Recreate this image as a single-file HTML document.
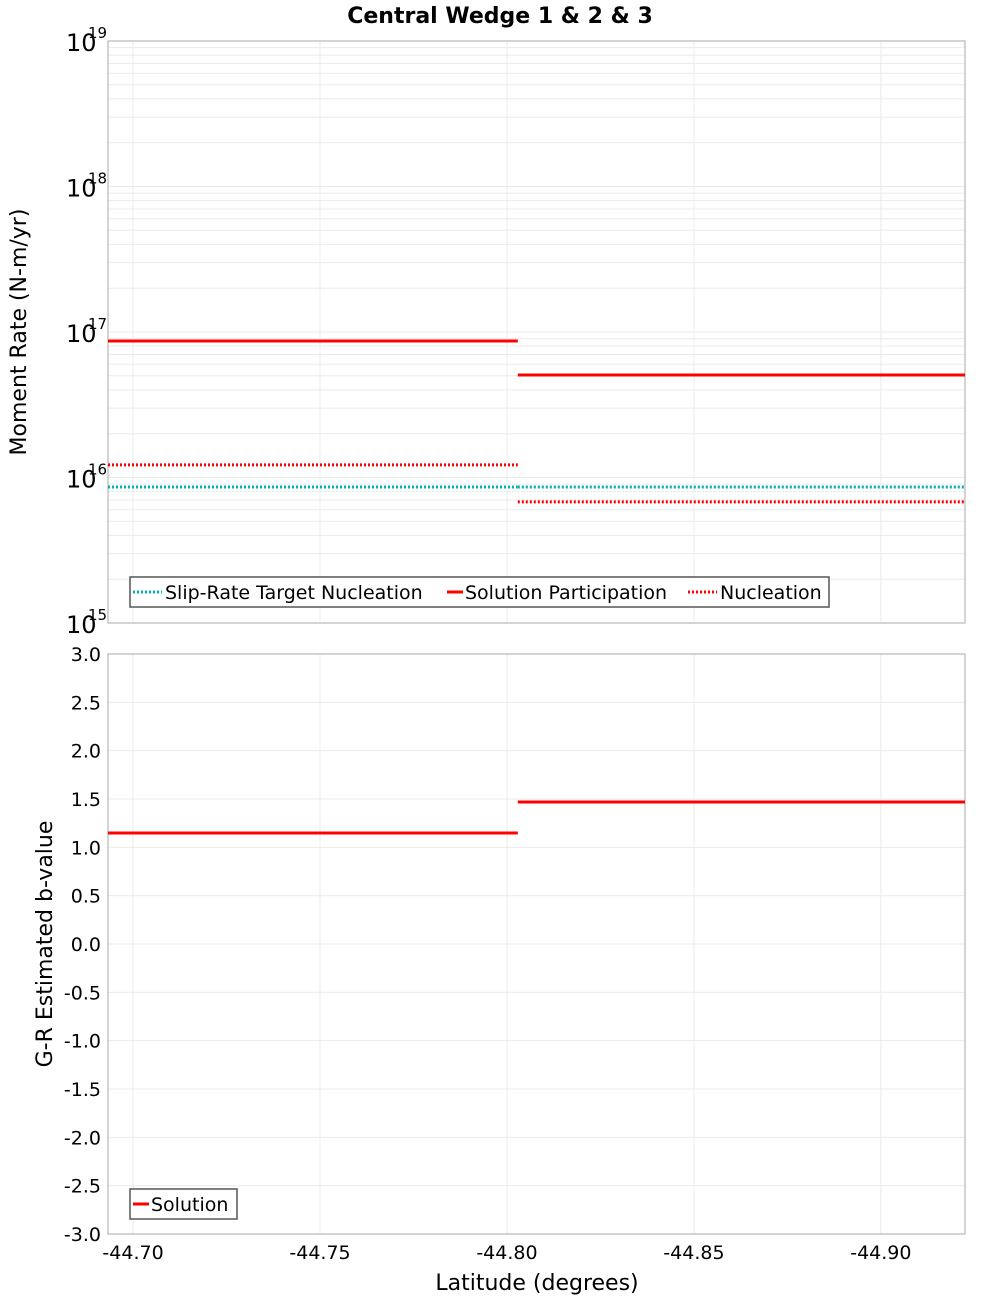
<!DOCTYPE html>
<html><head><meta charset="utf-8"><style>
body{margin:0;background:#fff;}
svg text{font-family:"DejaVu Sans","Liberation Sans",sans-serif;}
</style></head><body>
<svg id="chart" width="1000" height="1300" xmlns="http://www.w3.org/2000/svg">
<text x="500" y="23" text-anchor="middle" font-size="22" font-weight="bold">Central Wedge 1 &amp; 2 &amp; 3</text>
<g id="topPanel"></g>
<g id="botPanel"></g>
<text transform="translate(26,332) rotate(-90)" text-anchor="middle" font-size="22">Moment Rate (N-m/yr)</text>
<text transform="translate(52,944) rotate(-90)" text-anchor="middle" font-size="22">G-R Estimated b-value</text>
<text x="537" y="1290" text-anchor="middle" font-size="22">Latitude (degrees)</text>
</svg>
<script>
const xTicks=[-44.70,-44.75,-44.80,-44.85,-44.90];
const xTickLabels=["-44.70","-44.75","-44.80","-44.85","-44.90"];
const segEdges=[-44.6933,-44.8029,-44.9225];
const participation=[8.67e16,5.06e16];
const nucleation=[1.22e16,6.8e15];
const targetNucleation=[8.6e15,8.6e15];
const bValues=[1.148,1.469];
const yLogTicks=[15,16,17,18,19];
const bTicks=[-3,-2.5,-2,-1.5,-1,-0.5,0,0.5,1,1.5,2,2.5,3];

const L=108,R=965,T1=41,B1=623,T2=654,B2=1234;
const X0=-44.6933,X1=-44.9225;
const xs=v=>L+(v-X0)/(X1-X0)*(R-L);
const yLog=v=>B1-(Math.log10(v)-15)/4*(B1-T1);
const yB=v=>B2-(v+3)/6*(B2-T2);
const NS="http://www.w3.org/2000/svg";
function mk(parent,tag,attrs,text){const e=document.createElementNS(NS,tag);for(const k in attrs)e.setAttribute(k,attrs[k]);if(text!==undefined)e.textContent=text;parent.appendChild(e);return e;}
const topG=document.getElementById('topPanel'),botG=document.getElementById('botPanel');

for(let d=15;d<19;d++)for(let m=1;m<10;m++){const y=yLog(m*Math.pow(10,d));
 const g=mk(topG,'line',{x1:L,x2:R,y1:y,y2:y,stroke:'#ebebeb','stroke-width':1});
 
 }
for(const t of xTicks){for(const [g0,T,B] of [[topG,T1,B1],[botG,T2,B2]]){const g=mk(g0,'line',{x1:xs(t),x2:xs(t),y1:T,y2:B,stroke:'#ebebeb','stroke-width':1});
 
 }}
for(const t of bTicks){const g=mk(botG,'line',{x1:L,x2:R,y1:yB(t),y2:yB(t),stroke:'#ebebeb','stroke-width':1});
 
 }
for(const [g0,T,B] of [[topG,T1,B1],[botG,T2,B2]]){const f=mk(g0,'rect',{x:L,y:T,width:R-L,height:B-T,fill:'none',stroke:'#aaa','stroke-width':1});
 
 }
for(const e of yLogTicks){const y=yLog(Math.pow(10,e));
 const t=mk(topG,'text',{x:66,y:y+10,'font-size':24},'10');
 
 
 mk(t,'tspan',{x:88,y:y-3,'font-size':15},String(e));}
for(const v of bTicks){const t=mk(botG,'text',{x:101,y:yB(v)+7,'text-anchor':'end','font-size':19},v.toFixed(1));
 
 }
xTicks.forEach((v,i)=>{const t=mk(botG,'text',{x:xs(v),y:1259,'text-anchor':'middle','font-size':19},xTickLabels[i]);
 
 });
function seg(g0,vals,yf,color,dash,name){for(let i=0;i<vals.length;i++){
 const a={x1:xs(segEdges[i]),x2:xs(segEdges[i+1]),y1:yf(vals[i]),y2:yf(vals[i]),stroke:color,'stroke-width':3};
 if(dash)a['stroke-dasharray']='2,2';const l=mk(g0,'line',a);
 
 }}
seg(topG,targetNucleation,yLog,'#00b4b4',true,'target-nucleation-segment');
seg(topG,nucleation,yLog,'#ff0000',true,'nucleation-segment');
seg(topG,participation,yLog,'#ff0000',false,'participation-segment');
seg(botG,bValues,yB,'#ff0000',false,'b-value-segment');
const lg=mk(topG,'g',{});


mk(lg,'rect',{x:130,y:577,width:699,height:30,fill:'#fff',stroke:'#555','stroke-width':1.5});
const items=[[133,'#00b4b4',true,'Slip-Rate Target Nucleation',165],[447,'#ff0000',false,'Solution Participation',465],[688,'#ff0000',true,'Nucleation',720]];
for(const [x,c,d,txt,tx] of items){const e=mk(lg,'g',{});
 
 
 const a={x1:x,x2:d?x+29:x+16,y1:592,y2:592,stroke:c,'stroke-width':3};if(d)a['stroke-dasharray']='2,2';mk(e,'line',a);
 mk(e,'text',{x:tx,y:599,'font-size':19},txt);}
const lg2=mk(botG,'g',{});


mk(lg2,'rect',{x:130,y:1189,width:107,height:30,fill:'#fff',stroke:'#555','stroke-width':1.5});
mk(lg2,'line',{x1:133,x2:149,y1:1204,y2:1204,stroke:'#ff0000','stroke-width':3});
mk(lg2,'text',{x:151,y:1211,'font-size':19},'Solution');
</script>
</body></html>
